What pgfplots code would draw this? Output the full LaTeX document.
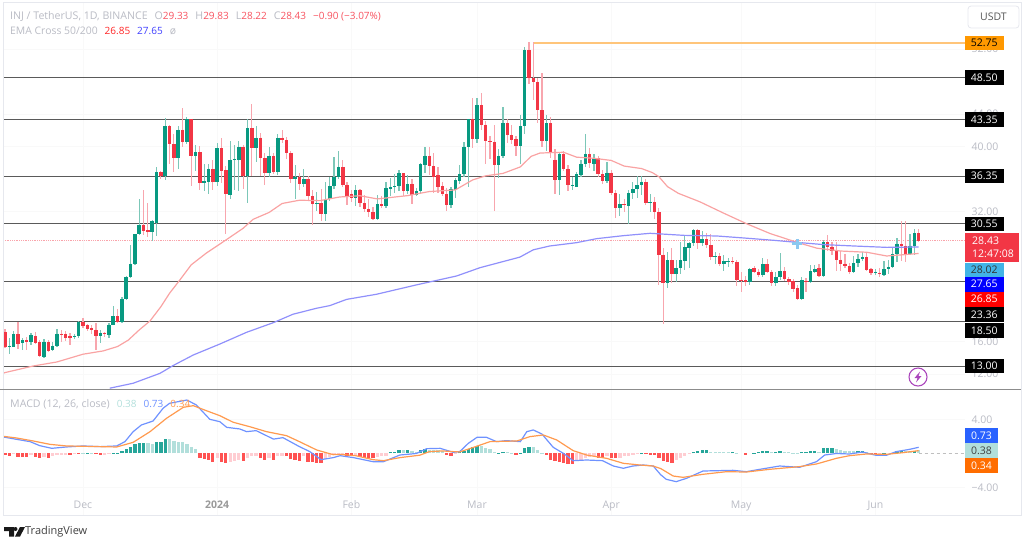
\documentclass[border=0pt]{standalone}
\usepackage{fontspec}
\setmainfont{Open Sans}
\usepackage{pgfplots}
\usepackage{pgfplotstable}
\pgfplotsset{compat=1.18}
\definecolor{gup}{HTML}{089981}
\definecolor{rdn}{HTML}{F23645}
\definecolor{wup}{HTML}{7CC7B8}
\definecolor{wdn}{HTML}{F8A6AE}
\definecolor{lvl}{HTML}{5A5A5A}
\definecolor{tickg}{HTML}{B9BBC4}
\definecolor{frameg}{HTML}{E6E8EE}
\definecolor{ema50}{HTML}{F9A3A3}
\definecolor{ema200}{HTML}{9090FB}
\definecolor{macdb}{HTML}{6F92FF}
\definecolor{macdo}{HTML}{FF9A4F}
\definecolor{h1}{HTML}{26A69A}
\definecolor{h2}{HTML}{B2DFDB}
\definecolor{h3}{HTML}{FFCDD2}
\definecolor{h4}{HTML}{FF5252}
\definecolor{valred}{HTML}{F7525F}
\definecolor{boxor}{HTML}{FF9800}
\definecolor{boxcy}{HTML}{42B4E6}
\definecolor{boxbl}{HTML}{2962FF}
\definecolor{boxdo}{HTML}{FF6D00}
\definecolor{linor}{HTML}{FFC57A}
\definecolor{crossb}{HTML}{8CC8F0}
\definecolor{flash}{HTML}{AB47BC}
\pgfplotstableread{
i O H L C
0 17.2 17.6 15.2 15.3
1 15.4 16.4 14.5 15.5
2 15.4 17.3 15.3 17.0
3 16.9 18.4 15.1 15.7
4 15.8 16.5 15.0 16.2
5 16.2 16.6 15.0 15.9
6 15.9 17.1 15.6 16.8
7 16.7 17.2 15.7 15.8
8 15.9 16.2 14.1 14.2
9 14.1 16.3 14.0 16.0
10 16.0 16.2 14.7 14.9
11 15.0 15.9 14.9 15.5
12 15.5 17.5 15.4 17.0
13 17.0 17.4 16.0 16.9
14 17.0 17.3 16.1 16.5
15 16.7 17.1 15.6 16.5
16 16.6 17.0 16.3 16.7
17 16.7 18.5 16.5 18.4
18 18.4 18.9 17.7 17.9
19 18.0 18.2 17.3 17.6
20 17.7 18.1 16.9 17.4
21 17.4 18.3 15.0 16.7
22 16.7 17.4 15.8 17.1
23 17.1 17.2 16.6 16.9
24 16.8 18.3 16.5 18.1
25 18.1 20.4 18.0 19.1
26 19.1 20.0 18.3 18.4
27 18.4 21.5 18.3 21.2
28 21.2 24.1 21.1 23.9
29 23.9 27.9 23.8 25.6
30 25.5 29.3 25.4 29.2
31 29.2 33.6 29.1 30.4
32 30.4 34.7 29.1 29.6
33 29.7 33.0 28.9 29.5
34 29.5 31.0 28.4 30.8
35 30.6 37.5 29.0 36.9
36 36.9 37.0 36.0 36.4
37 36.4 43.5 35.9 42.5
38 42.5 42.7 37.8 40.3
39 40.3 41.6 36.9 38.6
40 38.6 42.5 37.2 42.1
41 42.1 44.8 40.0 40.6
42 40.6 43.7 40.3 43.4
43 43.4 43.4 35.1 38.8
44 38.8 40.2 37.0 39.3
45 39.3 40.1 34.6 35.5
46 35.5 37.8 34.5 35.8
47 35.7 37.9 34.2 37.3
48 37.3 38.4 34.6 35.7
49 35.7 40.5 35.2 39.8
50 39.8 41.1 35.5 37.0
51 37.1 37.6 29.2 34.2
52 34.1 40.7 33.6 38.4
53 38.4 40.2 34.6 38.5
54 38.4 40.7 34.5 40.0
55 40.0 40.2 34.8 36.4
56 36.4 43.4 33.1 42.3
57 42.3 45.3 36.4 39.8
58 39.8 42.5 38.1 41.1
59 41.1 41.7 36.4 38.6
60 38.6 39.2 35.3 36.7
61 36.7 39.9 36.2 38.9
62 38.9 39.2 36.6 36.9
63 36.9 41.5 36.5 41.1
64 41.1 42.0 40.4 40.8
65 40.8 41.2 38.5 39.2
66 39.2 39.4 35.5 36.0
67 36.0 37.7 33.6 36.3
68 36.3 36.7 34.6 35.4
69 35.4 37.3 35.0 36.0
70 36.0 36.4 33.3 33.9
71 33.9 34.6 30.4 32.9
72 32.9 34.4 32.1 33.1
73 33.0 34.8 30.9 31.7
74 31.7 35.7 30.9 33.6
75 33.6 36.3 33.3 35.1
76 35.1 38.7 34.8 36.3
77 36.3 39.5 36.0 37.5
78 37.5 38.4 35.0 35.3
79 35.3 35.6 32.8 33.9
80 34.2 34.6 33.2 33.7
81 33.7 35.3 32.7 34.6
82 34.6 34.8 32.6 33.0
83 33.0 34.1 31.9 32.3
84 32.3 33.6 31.3 31.9
85 31.9 32.6 31.0 31.1
86 31.1 34.1 31.0 32.9
87 32.9 33.9 32.4 32.7
88 32.7 35.7 32.5 34.9
89 34.8 36.1 33.9 35.0
90 35.0 36.6 34.3 35.1
91 35.1 37.1 34.5 36.7
92 36.7 36.8 33.9 34.5
93 34.5 36.5 34.2 35.4
94 35.4 36.0 32.9 34.1
95 34.1 34.9 33.9 34.5
96 34.5 38.0 34.2 37.8
97 37.7 39.9 36.7 38.9
98 38.9 40.0 36.5 37.6
99 37.6 39.2 34.3 36.2
100 36.5 37.5 34.3 35.0
101 35.1 35.6 33.9 34.2
102 34.2 34.9 32.1 32.8
103 32.8 35.0 32.5 34.8
104 34.7 36.1 33.7 35.9
105 35.8 37.7 35.4 36.6
106 36.6 40.6 36.3 40.0
107 40.0 43.4 35.0 43.4
108 43.4 46.0 39.8 40.9
109 40.9 46.0 40.4 45.1
110 45.1 46.6 42.1 42.7
111 42.7 43.1 37.9 40.7
112 40.7 41.3 38.5 40.6
113 40.6 42.6 32.1 37.7
114 37.7 39.7 36.1 38.9
115 38.9 44.9 38.6 42.9
116 42.9 43.4 40.5 41.4
117 41.4 42.7 40.3 40.8
118 40.9 41.3 38.8 40.1
119 40.1 43.9 37.9 42.5
120 42.5 52.2 41.6 51.9
121 51.9 52.9 47.7 48.4
122 48.4 52.9 45.7 47.9
123 48.0 48.4 42.9 44.5
124 44.5 49.0 40.0 40.7
125 40.7 43.9 39.5 42.9
126 42.9 43.6 38.6 39.2
127 38.4 39.7 34.2 35.9
128 35.9 39.3 34.1 39.1
129 39.1 39.4 37.0 37.2
130 37.2 37.7 34.5 35.3
131 35.1 36.3 34.6 35.3
132 35.0 36.9 35.0 36.6
133 36.5 38.3 36.2 37.9
134 37.9 41.5 37.5 39.1
135 39.1 39.8 37.4 38.0
136 37.9 39.1 37.0 38.6
137 38.6 38.8 36.3 36.6
138 36.6 37.1 35.4 35.8
139 35.8 38.1 35.5 36.8
140 36.8 37.1 34.1 34.3
141 34.3 34.6 31.2 32.5
142 32.5 34.2 31.5 32.9
143 32.9 33.5 32.0 32.8
144 32.7 34.7 30.5 34.3
145 34.3 35.7 33.5 34.8
146 34.8 36.4 33.7 35.3
147 35.3 36.4 34.0 35.7
148 35.7 36.0 32.8 33.0
149 33.0 34.2 32.0 33.2
150 33.2 33.8 31.1 31.9
151 31.9 32.4 23.0 26.7
152 26.7 27.5 18.2 23.2
153 23.2 27.0 22.6 26.0
154 26.0 27.5 23.2 24.3
155 24.3 26.0 23.3 25.0
156 25.0 28.2 24.3 26.0
157 25.9 29.0 24.8 27.6
158 27.5 28.3 25.0 28.1
159 28.1 29.8 27.8 29.7
160 29.7 29.8 27.4 28.1
161 28.1 29.6 27.8 28.6
162 28.6 29.4 27.5 27.9
163 27.9 29.3 26.1 26.4
164 26.4 27.0 25.5 26.5
165 26.5 26.9 25.3 25.5
166 25.5 26.7 24.7 25.9
167 25.8 26.3 25.2 25.9
168 25.9 26.4 25.5 25.8
169 25.8 26.0 22.9 23.6
170 23.6 24.6 22.1 23.5
171 23.6 24.1 22.9 23.3
172 23.3 25.1 23.0 24.9
173 25.0 25.3 24.4 24.6
174 24.6 24.9 24.0 24.2
175 24.2 26.3 24.0 25.5
176 25.5 26.2 24.4 24.6
177 24.6 24.8 22.9 23.2
178 23.2 24.6 22.9 24.0
179 24.0 26.9 23.6 24.7
180 24.7 25.2 23.5 23.7
181 23.7 24.0 23.0 23.3
182 23.4 23.7 22.1 22.5
183 22.6 23.0 21.2 21.3
184 21.3 23.9 21.1 23.6
185 23.5 23.8 22.1 23.3
186 23.3 25.4 23.2 24.7
187 24.6 25.4 24.4 24.9
188 25.0 25.5 23.9 24.1
189 24.1 28.5 23.9 28.3
190 28.2 29.1 27.2 27.6
191 27.6 28.3 26.6 27.2
192 27.3 28.3 24.7 26.0
193 26.1 27.2 24.7 25.6
194 25.6 26.8 25.0 25.3
195 25.3 25.7 24.3 24.6
196 24.6 26.5 24.4 25.7
197 25.7 26.8 25.2 26.2
198 26.2 27.0 25.9 26.4
199 26.4 27.0 24.7 24.8
200 24.9 25.0 24.2 24.4
201 24.4 24.9 24.2 24.6
202 24.5 25.0 23.9 24.3
203 24.2 25.9 24.1 24.9
204 24.9 26.1 24.3 25.2
205 25.2 27.5 25.1 26.8
206 26.8 28.7 25.8 28.0
207 28.0 30.9 25.9 27.8
208 27.8 30.8 25.8 26.8
209 26.8 29.2 26.6 27.8
210 27.8 29.8 26.7 29.33
211 29.33 29.83 28.22 28.43
}\ohlc
\pgfplotstableread{
i v c
0 -0.20 4
1 -0.24 4
2 -0.08 3
3 -0.36 4
4 -0.36 4
5 -0.36 4
6 -0.16 3
7 -0.36 4
8 -0.52 4
9 -0.36 3
10 -0.48 4
11 -0.32 3
12 -0.20 3
13 -0.12 3
14 -0.12 3
15 -0.16 4
16 -0.04 3
17 -0.08 4
18 0.04 2
19 0.08 1
20 0.04 2
21 -0.08 4
22 -0.16 4
23 -0.16 3
24 -0.08 3
25 0.04 1
26 0.04 1
27 0.24 1
28 0.52 1
29 0.80 1
30 1.08 1
31 1.20 1
32 1.24 1
33 1.20 2
34 1.16 2
35 1.36 1
36 1.40 1
37 1.72 1
38 1.68 2
39 1.48 2
40 1.40 2
41 1.32 2
42 1.12 2
43 0.80 2
44 0.52 2
45 -0.48 4
46 -0.64 4
47 -0.80 4
48 -0.96 4
49 -0.56 3
50 -0.96 4
51 -1.12 4
52 -0.96 3
53 -0.88 3
54 -0.80 3
55 -0.92 4
56 -0.48 3
57 -0.32 3
58 -0.24 3
59 -0.56 4
60 -0.72 4
61 -0.48 3
62 -0.80 4
63 -0.32 3
64 -0.24 3
65 -0.32 4
66 -0.64 4
67 -0.80 4
68 -0.88 4
69 -0.32 3
70 -1.04 4
71 -1.04 4
72 -1.08 4
73 -1.08 4
74 -0.64 3
75 -0.40 3
76 -0.20 3
77 -0.08 3
78 -0.12 3
79 -0.24 4
80 -0.28 4
81 -0.20 3
82 -0.40 4
83 -0.48 4
84 -0.56 4
85 -0.56 4
86 -0.40 3
87 -0.32 3
88 -0.24 3
89 0.12 1
90 0.20 1
91 0.40 1
92 0.36 2
93 0.40 1
94 0.24 2
95 0.16 2
96 0.40 1
97 0.52 1
98 0.44 2
99 0.40 2
100 0.36 2
101 0.24 2
102 -0.16 4
103 -0.24 4
104 -0.08 3
105 0.12 1
106 0.28 1
107 0.52 1
108 0.72 1
109 0.88 1
110 0.88 2
111 0.64 2
112 0.48 2
113 0.20 2
114 0.08 1
115 0.20 1
116 0.12 2
117 0.04 2
118 -0.12 4
119 0.04 1
120 0.60 1
121 0.80 1
122 0.80 2
123 0.44 2
124 0.04 2
125 -0.16 4
126 -0.72 4
127 -0.88 4
128 -1.00 4
129 -1.08 4
130 -1.20 4
131 -1.28 4
132 -0.88 3
133 -0.72 3
134 -0.56 3
135 -0.40 3
136 -0.32 3
137 -0.48 4
138 -0.56 4
139 -0.24 3
140 -0.48 4
141 -0.56 4
142 -0.48 3
143 -0.32 3
144 -0.28 3
145 -0.16 3
146 -0.08 3
147 0.04 1
148 -0.04 4
149 -0.12 4
150 -0.16 4
151 -0.56 4
152 -0.88 4
153 -1.00 4
154 -1.12 4
155 -0.80 3
156 -0.56 3
157 -0.32 3
158 -0.08 3
159 0.12 1
160 0.24 1
161 0.36 1
162 0.36 1
163 0.20 2
164 0.16 2
165 0.12 2
166 0.12 2
167 0.12 2
168 0.16 1
169 0.04 2
170 0.00 2
171 -0.12 4
172 0.00 1
173 0.08 1
174 0.12 1
175 0.28 1
176 0.28 1
177 0.12 2
178 0.20 1
179 0.28 1
180 0.20 2
181 0.16 2
182 0.08 2
183 0.04 2
184 0.12 1
185 0.16 1
186 0.24 1
187 0.32 1
188 0.16 2
189 0.60 1
190 0.68 1
191 0.68 1
192 0.52 2
193 0.44 2
194 0.32 2
195 0.24 2
196 0.24 2
197 0.28 1
198 0.28 1
199 0.12 2
200 -0.04 4
201 -0.08 4
202 -0.08 3
203 0.04 1
204 0.00 1
205 0.08 1
206 0.28 1
207 0.28 1
208 0.24 2
209 0.24 2
210 0.32 1
211 0.38 2
}\hist
\pgfplotsset{
  candlewick/.style={draw=none, mark=none, forget plot,
    error bars/.cd, y dir=both, y explicit, error mark=none,
    error bar style={line width=1.2pt, color=#1}},
  candlebody/.style={draw=none, mark=none, forget plot,
    error bars/.cd, y dir=minus, y explicit, error mark=none,
    error bar style={line width=3.5pt, color=#1}},
  hbar/.style={ycomb, draw=#1, line width=3.3pt, mark=none, forget plot},
  pane/.style={scale only axis, width=962pt,
    xmin=-0.46, xmax=221.7,
    axis line style={draw=none}, tick style={draw=none},
    xtick={18,49,80,109,140,170,201},
    grid=major, grid style={color=gray!5, line width=.5pt},
    yticklabel pos=right,
    yticklabel style={font=\fontsize{10.5}{12}\selectfont, text=tickg, anchor=west, xshift=3pt},
    xticklabel style={font=\fontsize{10.5}{12}\selectfont, text=tickg}},
}
\newcommand{\pricebox}[5]{% y1 y2 fill textcolor text
  \fill[#3] (965,#1) rectangle (1003.5,#2);
  \node[text=#4, font=\fontsize{10.5}{12}\selectfont, inner sep=0pt] at (984.2,{(#1+#2)/2}) {#5};}
\newcommand{\macdbox}[5]{%
  \fill[#3] (965,#1) rectangle (998,#2);
  \node[text=#4, font=\fontsize{10.5}{12}\selectfont, inner sep=0pt] at (981.5,{(#1+#2)/2}) {#5};}
\newcommand{\vals}[1]{{\fontsize{10}{12}\selectfont #1}}
\begin{document}
\begin{tikzpicture}
\path[use as bounding box] (0pt,0pt) rectangle (1024pt,-539pt);
\begin{axis}[pane, at={(3pt,-389pt)}, anchor=south west, height=386pt,
  ymin=10.17, ymax=57.67,
  ytick={12,16,32,40,44,52},
  yticklabels={12.00,16.00,32.00,40.00,44.00,52.00},
  xticklabels={}]
\addplot[lvl, line width=1pt, forget plot] coordinates {(-0.46,48.5)(221.7,48.5)};
\addplot[lvl, line width=1pt, forget plot] coordinates {(-0.46,43.35)(221.7,43.35)};
\addplot[lvl, line width=1pt, forget plot] coordinates {(-0.46,36.35)(221.7,36.35)};
\addplot[lvl, line width=1pt, forget plot] coordinates {(-0.46,30.55)(221.7,30.55)};
\addplot[lvl, line width=1pt, forget plot] coordinates {(-0.46,23.36)(221.7,23.36)};
\addplot[lvl, line width=1pt, forget plot] coordinates {(-0.46,18.5)(221.7,18.5)};
\addplot[lvl, line width=1pt, forget plot] coordinates {(-0.46,13)(221.7,13)};
\addplot[linor, line width=1.2pt, forget plot] coordinates {(122,52.75)(221.7,52.75)};
\addplot[rdn!45, line width=.8pt, densely dotted, forget plot] coordinates {(-0.46,28.43)(221.7,28.43)};
% wicks
\addplot[candlewick=wup] table[x expr={\thisrow{C}>=\thisrow{O} ? \thisrow{i} : nan}, y=C, y error plus expr=\thisrow{H}-\thisrow{C}, y error minus expr=\thisrow{C}-\thisrow{L}] {\ohlc};
\addplot[candlewick=wdn] table[x expr={\thisrow{C}<\thisrow{O} ? \thisrow{i} : nan}, y=C, y error plus expr=\thisrow{H}-\thisrow{C}, y error minus expr=\thisrow{C}-\thisrow{L}] {\ohlc};
% bodies
\addplot[candlebody=gup] table[x expr={\thisrow{C}>=\thisrow{O} ? \thisrow{i} : nan}, y=C, y error minus expr=\thisrow{C}-\thisrow{O}] {\ohlc};
\addplot[candlebody=rdn] table[x expr={\thisrow{C}<\thisrow{O} ? \thisrow{i} : nan}, y=O, y error minus expr=\thisrow{O}-\thisrow{C}] {\ohlc};
% EMA 50
\addplot[ema50, line width=1.2pt, forget plot] coordinates {
(-0.46,12.1)(0,12.19)(6.5,13.0)(12,13.5)(18,14.45)(22.7,14.86)(26,15.4)(28.5,16.2)(31,17.44)(33.5,18.55)(36,20.3)(38,21.95)(40.4,23.6)(43,25.45)(46.5,26.9)(51,28.5)(55,29.95)(57.3,31.05)(61,31.9)(64,33.0)(68,33.4)(72.7,33.35)(77.3,33.8)(82,33.95)(86,33.56)(93,33.97)(98,34.47)(104,34.67)(108,35.9)(111,36.4)(115,36.7)(119,37.5)(121.5,38.8)(123.5,39.2)(126,39.26)(129,39.3)(132,38.7)(136,38.56)(140,38.3)(143,37.6)(147,37.3)(149.5,36.8)(151,36.3)(153,35.07)(155.5,34.25)(160.5,33.2)(166,31.8)(171.3,30.5)(176.7,29.3)(183,28.2)(187.5,27.5)(193,27.15)(199,27.0)(203.6,26.54)(206.7,26.66)(211,26.85)};
% EMA 200
\addplot[ema200, line width=1.2pt, forget plot] coordinates {
(24.2,10.27)(29.6,10.88)(35.8,12.1)(38.8,13.05)(43.5,14.36)(49.6,15.7)(55.8,17.15)(62,18.34)(66.5,19.37)(71.9,20.1)(75,20.43)(78.9,21.2)(85.8,21.83)(95,22.98)(104.3,24.08)(109.7,25.1)(118.9,26.4)(122,27.3)(125.8,27.77)(132,28.18)(136.6,28.67)(142.8,29.04)(149,29.33)(156.7,29.08)(164.4,29.0)(170.5,28.76)(177.5,28.47)(182.8,28.22)(189,27.94)(196,27.77)(203.6,27.6)(211,27.65)};
\addplot[only marks, mark=+, mark size=5pt, mark options={line width=3pt, color=crossb}, forget plot] coordinates {(183,28.02)};
\end{axis}
\begin{axis}[pane, at={(3pt,-515pt)}, anchor=south west, height=126pt,
  ymin=-7.27, ymax=7.62,
  ytick={-4,4}, yticklabels={−4.00,4.00},
  xticklabels={Dec,\textcolor{gray!80}{\textbf{2024}},Feb,Mar,Apr,May,Jun},
  xticklabel style={yshift=18pt}]
\addplot[gray!50, line width=.7pt, dashed, forget plot] coordinates {(211,0)(221.7,0)};
\addplot[hbar=h1] table[x expr={\thisrow{c}==1 ? \thisrow{i} : nan}, y=v] {\hist};
\addplot[hbar=h2] table[x expr={\thisrow{c}==2 ? \thisrow{i} : nan}, y=v] {\hist};
\addplot[hbar=h3] table[x expr={\thisrow{c}==3 ? \thisrow{i} : nan}, y=v] {\hist};
\addplot[hbar=h4] table[x expr={\thisrow{c}==4 ? \thisrow{i} : nan}, y=v] {\hist};
% MACD line
\addplot[macdb, line width=1.2pt, forget plot] coordinates {
(-0.4,1.95)(2.7,1.67)(5.8,1.4)(8,.93)(10.8,.61)(14.2,.77)(18,.89)(22,.81)(25.8,.89)(27.7,1.4)(29.6,2.58)(31.5,3.37)(34.2,3.84)(36.5,5.34)(38,5.93)(42,6.32)(44.2,5.73)(47.3,4.04)(49.6,3.76)(51.2,3.09)(54.2,2.9)(55.8,2.58)(58,2.7)(62,1.7)(64.2,1.87)(68,.81)(70.4,.22)(73,-.73)(75.8,-.49)(77.4,-.26)(80.5,-.49)(85,-.97)(87.4,-.97)(91.2,-.18)(95,0)(97.4,.57)(100.5,.61)(103.5,.14)(105,.22)(107,1.2)(109,1.91)(111.2,1.91)(113.5,1.4)(115.8,1.52)(119,1.4)(120.5,2.58)(122,2.78)(124,2.3)(126.6,.73)(129,0)(131.2,-.85)(134.3,-.77)(138,-.85)(140.5,-1.48)(142.8,-1.75)(145,-1.48)(147.4,-1.36)(149.7,-1.48)(151.4,-2.5)(152.7,-3.05)(155,-3.33)(157.4,-2.93)(161.2,-2.07)(168.1,-1.99)(171.2,-2.15)(174.3,-1.87)(178.9,-1.48)(183.5,-1.63)(187.4,-.97)(189.3,-.18)(192,0)(195,-.06)(198,.17)(201.2,-.22)(203.5,-.22)(205.8,.22)(208.9,.49)(211,.73)};
% signal
\addplot[macdo, line width=1.2pt, forget plot] coordinates {
(-0.4,2.03)(2.7,1.83)(6.5,1.48)(10.4,1.08)(14.2,.89)(18,.85)(25.8,.77)(29.6,1.32)(33.5,2.58)(37.3,4.16)(41.2,5.46)(43.5,5.65)(46.5,5.06)(49.6,4.47)(52.7,3.69)(56.5,3.17)(60.4,2.58)(65,2.11)(68,1.4)(72,.41)(75.8,-.14)(77.4,-.1)(81,-.26)(85,-.73)(87.4,-.85)(91.2,-.49)(95.8,-.2)(98,.22)(101,.3)(105,.18)(109.7,.99)(112,1.4)(118.2,1.48)(121.2,1.99)(124.3,2.19)(127.4,1.6)(131.2,.34)(134.3,-.18)(138.9,-.57)(142.8,-1.16)(146.6,-1.36)(149.7,-1.48)(151.5,-1.8)(154.3,-2.66)(156.6,-2.82)(161.2,-2.46)(166.6,-2.15)(171.2,-2.19)(176.6,-1.87)(183.5,-1.55)(187.4,-1.24)(192,-.57)(195,-.26)(198.9,-.06)(203.5,-.1)(207.4,.1)(211,.34)};
\end{axis}
\begin{scope}[x=1pt,y=-1pt]
% frame
\draw[frameg, line width=1pt] (3,2.5) -- (1021,2.5) -- (1021,515) -- (3,515) -- cycle;
\draw[gray!90, line width=.8pt] (0,389) -- (1021,389);
% USDT
\draw[frameg, line width=.8pt, rounded corners=3pt, fill=white] (968,6) rectangle (1019,28);
\node[text=black!65, font=\fontsize{10.5}{12}\selectfont, inner sep=0pt] at (993.5,17) {USDT};
% price labels
\pricebox{36}{50}{boxor}{black}{52.75}
\pricebox{70}{85}{black}{white}{48.50}
\pricebox{112}{127}{black}{white}{43.35}
\pricebox{169}{183}{black}{white}{36.35}
\pricebox{217}{231}{black}{white}{30.55}
\fill[rdn] (965,233) rectangle (1018.5,262);
\node[text=white, font=\fontsize{10.5}{12}\selectfont, inner sep=0pt, anchor=west] at (972,241) {28.43};
\node[text=white, font=\fontsize{10.5}{12}\selectfont, inner sep=0pt, anchor=west] at (972,254) {12:47:08};
\pricebox{263}{276.7}{boxcy}{black!80}{28.02}
\pricebox{276.7}{291.7}{blue}{white}{27.65}
\pricebox{291.7}{306.7}{red}{white}{26.85}
\pricebox{306.7}{322}{black}{white}{23.36}
\pricebox{323}{338}{black}{white}{18.50}
\pricebox{359}{373}{black}{white}{13.00}
\macdbox{428}{443}{boxbl}{white}{0.73}
\macdbox{443}{458}{h2}{black!75}{0.38}
\macdbox{458}{473}{boxdo}{white}{0.34}
% legends
\node[anchor=west, inner sep=0pt, font=\fontsize{10.6}{12}\selectfont, text=tickg] at (10,16)
  {INJ / TetherUS, 1D, BINANCE\hspace{7pt}O\textcolor{valred}{\vals{29.33}}\hspace{7pt}H\textcolor{valred}{\vals{29.83}}\hspace{7pt}L\textcolor{valred}{\vals{28.22}}\hspace{7pt}C\textcolor{valred}{\vals{28.43}}\hspace{7pt}\textcolor{valred}{\vals{−0.90 (−3.07\%)}}};
\node[anchor=west, inner sep=0pt, font=\fontsize{10.4}{12}\selectfont, text=tickg] at (10,31)
  {EMA Cross 50/200\hspace{7pt}\textcolor{red!85}{\vals{26.85}}\hspace{7pt}\textcolor{blue!75}{\vals{27.65}}\hspace{7pt}ø};
\node[anchor=west, inner sep=0pt, font=\fontsize{10.6}{12}\selectfont, text=tickg] at (10,404)
  {MACD (12, 26, close)\hspace{7pt}\textcolor{h2}{\vals{0.38}}\hspace{7pt}\textcolor{macdb}{\vals{0.73}}\hspace{7pt}\textcolor{macdo}{\vals{0.34}}};
% flash icon
\draw[flash, line width=1.1pt] (918,377) circle (9);
\fill[flash] (920,371.5) -- (914.5,378) -- (917.5,378) -- (916,382.5) -- (921.5,376) -- (918.5,376) -- cycle;
% logo
\fill[black!90] (4,527) -- (14,527) -- (14,536.5) -- (9,536.5) -- (9,531) -- (4,531) -- cycle;
\fill[black!90] (15.5,529) circle (2);
\fill[black!90] (20,527) -- (25,527) -- (20,536.5) -- (15,536.5) -- cycle;
\node[anchor=west, inner sep=0pt, font=\fontsize{11}{13}\selectfont, text=black!75] at (25,532) {TradingView};
\end{scope}
\end{tikzpicture}
\end{document}
